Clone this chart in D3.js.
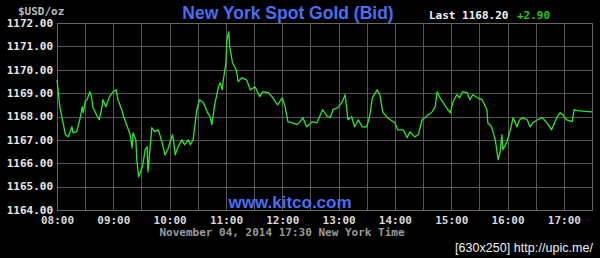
<!DOCTYPE html>
<html>
<head>
<meta charset="utf-8">
<script src="https://cdn.jsdelivr.net/npm/d3@7"></script>
<style>
  body { margin: 0; background: #000; }
  svg { display: block; }
</style>
</head>
<body>
<div id="chart"></div>
<script>
// spot gold, nov 04 2014, new york time
var times = ["08:00","08:03","08:09","08:12","08:16","08:17","08:21","08:25","08:27","08:28",
  "08:30","08:32","08:35","08:37","08:38","08:43","08:45","08:48","08:49","08:52",
  "08:56","09:00","09:03","09:05","09:09","09:11","09:15","09:18","09:20","09:21",
  "09:24","09:25","09:27","09:31","09:34","09:36","09:37","09:39","09:41","09:44",
  "09:48","09:52","09:55","09:58","10:03","10:04","10:06","10:09","10:13","10:16",
  "10:20","10:22","10:25","10:29","10:32","10:36","10:40","10:43","10:45","10:48",
  "10:52","10:54","10:56","10:57","11:00","11:01","11:03","11:04","11:07","11:11",
  "11:13","11:17","11:22","11:26","11:31","11:36","11:39","11:45","11:50","11:55",
  "12:00","12:03","12:06","12:11","12:16","12:19","12:22","12:26","12:32","12:37",
  "12:43","12:48","12:51","12:54","12:59","13:04","13:07","13:10","13:14","13:17",
  "13:21","13:25","13:30","13:33","13:36","13:41","13:44","13:47","13:52","13:55",
  "14:00","14:03","14:09","14:13","14:16","14:21","14:25","14:29","14:32","14:35",
  "14:39","14:43","14:45","14:48","14:51","14:55","14:59","15:02","15:06","15:09",
  "15:12","15:17","15:20","15:23","15:28","15:33","15:38","15:39","15:43","15:47",
  "15:50","15:52","15:54","15:55","15:59","16:03","16:06","16:10","16:13","16:16",
  "16:21","16:24","16:27","16:32","16:37","16:42","16:47","16:53","16:56","16:59",
  "17:03","17:09","17:11","17:14","17:30"]

var prices = [1169.57,1168.42,1167.22,1167.13,1167.56,1167.30,1167.35,1167.99,1168.42,1168.16,
  1168.63,1168.72,1169.06,1168.80,1168.42,1167.99,1167.86,1168.42,1168.72,1168.42,
  1168.85,1169.06,1169.14,1168.72,1168.29,1167.99,1167.56,1167.22,1166.66,1167.30,
  1167.00,1166.15,1165.42,1165.85,1166.58,1166.70,1165.63,1166.58,1167.52,1167.35,
  1167.43,1166.88,1166.36,1166.58,1167.22,1167.00,1166.36,1166.70,1167.00,1166.79,
  1167.00,1166.79,1167.00,1168.29,1168.72,1168.59,1168.20,1167.99,1167.65,1168.50,
  1169.27,1169.44,1169.14,1169.49,1170.30,1171.28,1171.63,1170.99,1170.30,1170.00,
  1169.49,1169.66,1169.57,1169.14,1169.27,1168.85,1169.06,1169.02,1168.80,1168.50,
  1168.80,1168.42,1167.78,1167.73,1167.65,1167.78,1167.95,1167.56,1167.78,1167.73,
  1168.29,1167.99,1167.95,1168.29,1168.37,1168.63,1168.93,1167.86,1167.99,1167.56,
  1167.86,1167.56,1167.56,1167.99,1168.80,1169.14,1168.93,1168.20,1167.95,1167.86,
  1167.73,1167.43,1167.43,1167.09,1167.35,1167.13,1167.22,1167.86,1167.95,1168.07,
  1168.16,1168.42,1169.06,1168.80,1168.63,1168.37,1168.16,1168.63,1168.93,1168.80,
  1169.06,1169.02,1168.72,1168.93,1168.80,1168.72,1168.29,1167.73,1167.56,1167.00,
  1166.15,1166.45,1167.22,1166.58,1166.88,1167.43,1167.95,1167.56,1167.86,1167.95,
  1167.86,1167.56,1167.73,1167.86,1167.95,1167.73,1167.43,1167.99,1168.16,1168.07,
  1167.86,1167.78,1168.29,1168.25,1168.20]

var yTicks = [1164,1165,1166,1167,1168,1169,1170,1171,1172]
var xTicks = ["08:00","09:00","10:00","11:00","12:00","13:00","14:00","15:00","16:00","17:00"]
var xGrid = ["08:00","08:30","09:00","09:30","10:00","10:30","11:00","11:30","12:00","12:30",
  "13:00","13:30","14:00","14:30","15:00","15:30","16:00","16:30","17:00","17:30"]

var lastPrice = "1168.20"
var change = "+2.90"

var W = 600, H = 258
var margin = {top: 23, right: 8, bottom: 48, left: 57}
var width = W - margin.left - margin.right,
    height = H - margin.top - margin.bottom

var parse = d3.timeParse("%H:%M")
var data = times.map(function(t, i) { return {t: parse(t), v: prices[i]} })

var svg = d3.select("#chart").append("svg")
    .attr("width", W)
    .attr("height", H)
    .style("background", "#000")

var x = d3.scaleTime()
    .domain([parse("08:00"), parse("17:30")])
    .range([margin.left, margin.left + width])

var y = d3.scaleLinear()
    .domain([1164, 1172])
    .range([margin.top + height, margin.top])

var mono = "'DejaVu Sans Mono', 'Liberation Mono', monospace"

// GRID
svg.append("g")
  .selectAll("line.v")
  .data(xGrid)
  .enter().append("line")
    .attr("x1", d => Math.round(x(parse(d))) + 0.5)
    .attr("x2", d => Math.round(x(parse(d))) + 0.5)
    .attr("y1", margin.top)
    .attr("y2", margin.top + height)
    .attr("stroke", "#575757")

svg.append("g")
  .selectAll("line.h")
  .data(yTicks)
  .enter().append("line")
    .attr("x1", margin.left)
    .attr("x2", margin.left + width)
    .attr("y1", d => Math.round(y(d)) + 0.5)
    .attr("y2", d => Math.round(y(d)) + 0.5)
    .attr("stroke", "#575757")

svg.append("rect")
    .attr("x", margin.left + 0.5)
    .attr("y", Math.round(margin.top) + 0.5)
    .attr("width", width)
    .attr("height", height)
    .attr("fill", "none")
    .attr("stroke", "#666")

// Y AXIS labels
svg.append("g")
    .attr("transform", "translate(" + (margin.left - 4) + ",0)")
    .call(d3.axisLeft(y).tickValues(yTicks).tickSize(0).tickFormat(d3.format(".2f")))
    .call(g => g.select(".domain").remove())
    .call(g => g.selectAll(".tick text")
      .attr("x", 0)
      .attr("dy", "0.3em")
      .attr("fill", "#e8e8e8")
      .style("font-family", mono)
      .style("font-weight", "bold")
      .style("font-size", "11px"))

// X AXIS labels
svg.append("g")
    .attr("transform", "translate(0," + (margin.top + height) + ")")
    .call(d3.axisBottom(x).tickValues(xTicks.map(parse)).tickSize(0).tickFormat(d3.timeFormat("%H:%M")))
    .call(g => g.select(".domain").remove())
    .call(g => g.selectAll(".tick text")
      .attr("y", 6)
      .attr("fill", "#d8d8d8")
      .style("font-family", mono)
      .style("font-weight", "bold")
      .style("font-size", "11px"))

// LINE
svg.append("path")
    .datum(data)
    .attr("fill", "none")
    .attr("stroke", "#2ee62e")
    .attr("stroke-width", 1.3)
    .attr("stroke-linejoin", "round")
    .attr("d", d3.line().x(d => x(d.t)).y(d => y(d.v)))

// TEXTS
svg.append("text")
    .attr("x", 18).attr("y", 15)
    .attr("fill", "#bdbdbd")
    .style("font-family", mono).style("font-weight", "bold").style("font-size", "11px")
    .text("$USD/oz")

svg.append("text")
    .attr("x", 288).attr("y", 19)
    .attr("text-anchor", "middle")
    .attr("fill", "#4a6ef5")
    .style("font-family", "'Liberation Sans', Arial, sans-serif")
    .style("font-weight", "bold").style("font-size", "17.5px")
    .text("New York Spot Gold (Bid)")

svg.append("text")
    .attr("x", 429).attr("y", 19)
    .attr("fill", "#f2f2f2")
    .style("font-family", mono).style("font-weight", "bold").style("font-size", "11px")
    .text("Last " + lastPrice)

svg.append("text")
    .attr("x", 517).attr("y", 19)
    .attr("fill", "#22cc22")
    .style("font-family", mono).style("font-weight", "bold").style("font-size", "11px")
    .text(change)

svg.append("text")
    .attr("x", 290).attr("y", 208)
    .attr("text-anchor", "middle")
    .attr("fill", "#4a6ef5")
    .style("font-family", "'Liberation Sans', Arial, sans-serif")
    .style("font-weight", "bold").style("font-size", "17px")
    .text("www.kitco.com")

svg.append("text")
    .attr("x", 282).attr("y", 236)
    .attr("text-anchor", "middle")
    .attr("fill", "#9a9a9a")
    .style("font-family", mono).style("font-weight", "bold").style("font-size", "11px")
    .text("November 04, 2014 17:30 New York Time")

svg.append("text")
    .attr("x", 455).attr("y", 252)
    .attr("fill", "#f0f0f0")
    .attr("textLength", 138)
    .style("font-family", "'Liberation Sans', Arial, sans-serif")
    .style("font-size", "12.5px")
    .text("[630x250] http://upic.me/")
</script>
</body>
</html>
